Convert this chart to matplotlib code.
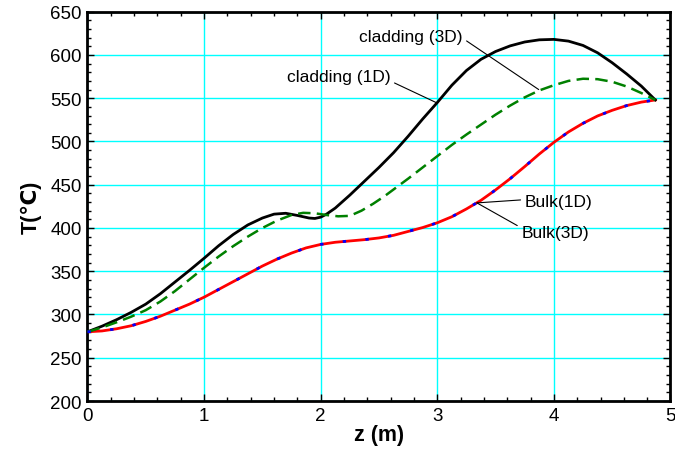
import matplotlib
matplotlib.use("Agg")
import matplotlib.pyplot as plt
from matplotlib.ticker import MultipleLocator

plt.rcParams['font.family'] = ['Liberation Sans', 'DejaVu Sans']

# bulk temperature (1D and 3D practically identical)
z_bulk = [0, 0.125, 0.25, 0.375, 0.5, 0.625, 0.75, 0.875, 1.0, 1.125, 1.25,
          1.375, 1.5, 1.625, 1.75, 1.875, 2.0, 2.125, 2.25, 2.375, 2.5, 2.625,
          2.75, 2.875, 3.0, 3.125, 3.25, 3.375, 3.5, 3.625, 3.75, 3.875, 4.0,
          4.125, 4.25, 4.375, 4.5, 4.625, 4.75, 4.87]
t_bulk = [280, 281, 283.5, 287, 292, 298, 305, 312, 320, 329, 338,
          347, 356, 364, 371, 377, 381, 383.5, 385, 386.5, 388.5, 391.5,
          396, 400.5, 406, 413, 422, 432, 444, 457, 471, 485.5, 499,
          511, 521, 529.5, 536, 541.5, 545.5, 548]

# cladding 3D (black)
z_clad3 = [0, 0.125, 0.25, 0.375, 0.5, 0.625, 0.75, 0.875, 1.0, 1.125, 1.25,
           1.375, 1.5, 1.6, 1.7, 1.8, 1.9, 1.95, 2.0, 2.05, 2.125, 2.25, 2.375,
           2.5, 2.625, 2.75, 2.875, 3.0, 3.125, 3.25, 3.375, 3.5, 3.625, 3.75,
           3.875, 4.0, 4.125, 4.25, 4.375, 4.5, 4.625, 4.75, 4.87]
t_clad3 = [280, 286.5, 294, 302.5, 312, 324, 337.5, 351, 365, 379.5, 392.5,
           403.5, 411.5, 416, 417, 414.5, 411.5, 411, 412.5, 416, 423, 438, 454,
           470, 487, 506, 526, 545, 565, 582, 595, 604, 610.5, 615,
           617.5, 618, 616, 611, 602.5, 591, 578, 564, 548]

# cladding 1D (green dashed)
z_clad1 = [0, 0.125, 0.25, 0.375, 0.5, 0.625, 0.75, 0.875, 1.0, 1.125, 1.25,
           1.375, 1.5, 1.625, 1.75, 1.85, 1.95, 2.05, 2.15, 2.25, 2.35, 2.45,
           2.55, 2.65, 2.75, 2.875, 3.0, 3.125, 3.25, 3.375, 3.5, 3.625, 3.75,
           3.875, 4.0, 4.125, 4.25, 4.375, 4.5, 4.625, 4.75, 4.87]
t_clad1 = [280, 285, 291, 297.5, 305, 315, 327, 340.5, 354, 367, 379,
           390, 400, 408.5, 415, 417.5, 417, 415, 413.5, 414, 420, 428,
           437, 447, 457, 470, 483, 496, 508, 519.5, 531, 541.5, 551,
           559, 565, 570, 572.5, 572, 569, 563.5, 556, 548]

fig = plt.figure(figsize=(6.75, 4.52), dpi=100)
ax = fig.add_axes([0.1296, 0.1106, 0.8637, 0.8613])

ax.plot(z_bulk, t_bulk, color="red", lw=2, zorder=3)
ax.plot(z_bulk, t_bulk, color="blue", lw=2, dashes=(1.2, 7), zorder=4)
ax.plot(z_clad3, t_clad3, color="black", lw=2, zorder=3)
ax.plot(z_clad1, t_clad1, color="green", lw=1.8, dashes=(5, 2.5), zorder=3)

ax.set_xlim(0, 5)
ax.set_ylim(200, 650)
ax.xaxis.set_major_locator(MultipleLocator(1))
ax.xaxis.set_minor_locator(MultipleLocator(0.2))
ax.yaxis.set_major_locator(MultipleLocator(50))
ax.yaxis.set_minor_locator(MultipleLocator(10))
ax.tick_params(which="both", direction="in", top=True, right=True,
               labelsize=13.5, width=1)
ax.tick_params(which="major", length=5, pad=4)
ax.tick_params(which="minor", length=3)
ax.grid(True, which="major", color="cyan", lw=1)
for s in ax.spines.values():
    s.set_linewidth(2)

ax.set_xlabel("z (m)", fontsize=15.5, fontweight="bold", labelpad=0)
ax.set_ylabel("T(℃)", fontsize=15.5, fontweight="bold", labelpad=6)

arrow = dict(arrowstyle="-", color="black", lw=0.8, shrinkA=1, shrinkB=0)
ax.annotate("cladding (3D)", xy=(3.87, 560), xytext=(2.33, 621),
            fontsize=12.5, va="center", ha="left",
            arrowprops=dict(arrow, relpos=(1, 0.4)))
ax.annotate("cladding (1D)", xy=(2.99, 545), xytext=(1.71, 575),
            fontsize=12.5, va="center", ha="left",
            arrowprops=dict(arrow, relpos=(1, 0.2)))
ax.annotate("Bulk(1D)", xy=(3.34, 429), xytext=(3.75, 431),
            fontsize=12.5, va="center", ha="left",
            arrowprops=dict(arrow, relpos=(0, 0.6)))
ax.annotate("Bulk(3D)", xy=(3.34, 429), xytext=(3.72, 395),
            fontsize=12.5, va="center", ha="left",
            arrowprops=dict(arrow, relpos=(0, 0.8)))

fig.savefig("out.png", dpi=100)
